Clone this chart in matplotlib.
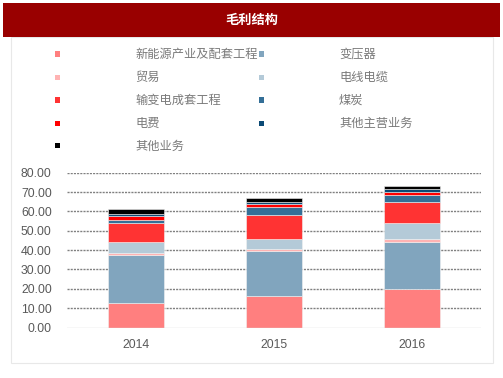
import matplotlib.pyplot as plt
from matplotlib.patches import Rectangle
import numpy as np

plt.rcParams['font.family'] = ['Liberation Sans', 'Noto Sans CJK SC']

# datos
anios = ["2014", "2015", "2016"]
series = ["新能源产业及配套工程", "变压器", "贸易", "电线电缆", "输变电成套工程",
          "煤炭", "电费", "其他主营业务", "其他业务"]
nuevas_energias = [12.8, 16.4, 19.9]
transformador = [24.8, 22.9, 24.4]
comercio = [0.7, 1.1, 1.2]
cables = [5.7, 5.4, 8.3]
transmision = [9.8, 12.3, 10.8]
carbon = [2.0, 4.1, 3.9]
electricidad = [1.9, 1.4, 1.4]
otros_principales = [1.2, 1.2, 1.7]
otros = [2.1, 2.2, 1.4]
valores = [nuevas_energias, transformador, comercio, cables, transmision,
           carbon, electricidad, otros_principales, otros]
colores = ["#FF7F7F", "#81A5BE", "#FFB3B3", "#B4CAD8", "#FF3333",
           "#346F97", "#FF0000", "#0B4A75", "#000000"]
yticks = [0, 10, 20, 30, 40, 50, 60, 70, 80]

fig = plt.figure(figsize=(5.03, 3.78), dpi=100)
W, H = 503, 378

# panel y cabecera
fig.patches.append(Rectangle((11 / W, 1 - 363 / H), 482 / W, 326 / H, transform=fig.transFigure,
                             facecolor="white", edgecolor="#E8E8E8", linewidth=0.8, zorder=-2))
fig.patches.append(Rectangle((3 / W, 1 - 37 / H), 497 / W, 34.5 / H, transform=fig.transFigure,
                             facecolor="#990000", edgecolor="none", zorder=-1))
fig.text(252 / W, 1 - 20 / H, "毛利结构", color="white", fontsize=9.5, fontweight="bold",
         ha="center", va="center", family=["Noto Sans CJK SC"])

# leyenda manual en dos columnas
filas_y = [54, 77.7, 100, 123.3, 146]
for i, (nombre, color) in enumerate(zip(series, colores)):
    col, fila = i % 2, i // 2
    mx = 55 if col == 0 else 259
    tx = 135 if col == 0 else 339
    y = filas_y[fila]
    fig.patches.append(Rectangle((mx / W, 1 - (y + 2.5) / H), 5 / W, 5 / H, transform=fig.transFigure,
                                 facecolor=color, edgecolor="none", zorder=2))
    fig.text(tx / W, 1 - y / H, nombre, color="#7A7A7A", fontsize=8.8, ha="left", va="center",
             family=["Noto Sans CJK SC"])

ax = fig.add_axes([67 / W, 1 - 327.5 / H, 414 / W, 154.8 / H])
ax.set_zorder(5)
ax.patch.set_alpha(0)
x = np.arange(len(anios))
base = np.zeros(len(anios))
for vals, color in zip(valores, colores):
    ax.bar(x, vals, width=0.4, bottom=base, color=color, edgecolor="#F2F2F2", linewidth=0.4, zorder=3)
    base += np.array(vals)

ax.set_xlim(-0.5, 2.5)
ax.set_ylim(0, 80)
ax.set_yticks(yticks)
ax.set_yticklabels([f"{v:.2f}" for v in yticks])
ax.set_xticks(x)
ax.set_xticklabels(anios)
for v in yticks[1:]:
    ax.axhline(v, color="#808080", linestyle=(0, (1.5, 0.8)), linewidth=1.0, zorder=1)
ax.axhline(0, color="#D9D9D9", linewidth=1.0, zorder=4)
for s in ax.spines.values():
    s.set_visible(False)
ax.tick_params(axis="both", length=0, labelsize=8.8, colors="#595959")
ax.tick_params(axis="y", pad=11)
ax.tick_params(axis="x", pad=8)

fig.savefig("out.png", dpi=100)
